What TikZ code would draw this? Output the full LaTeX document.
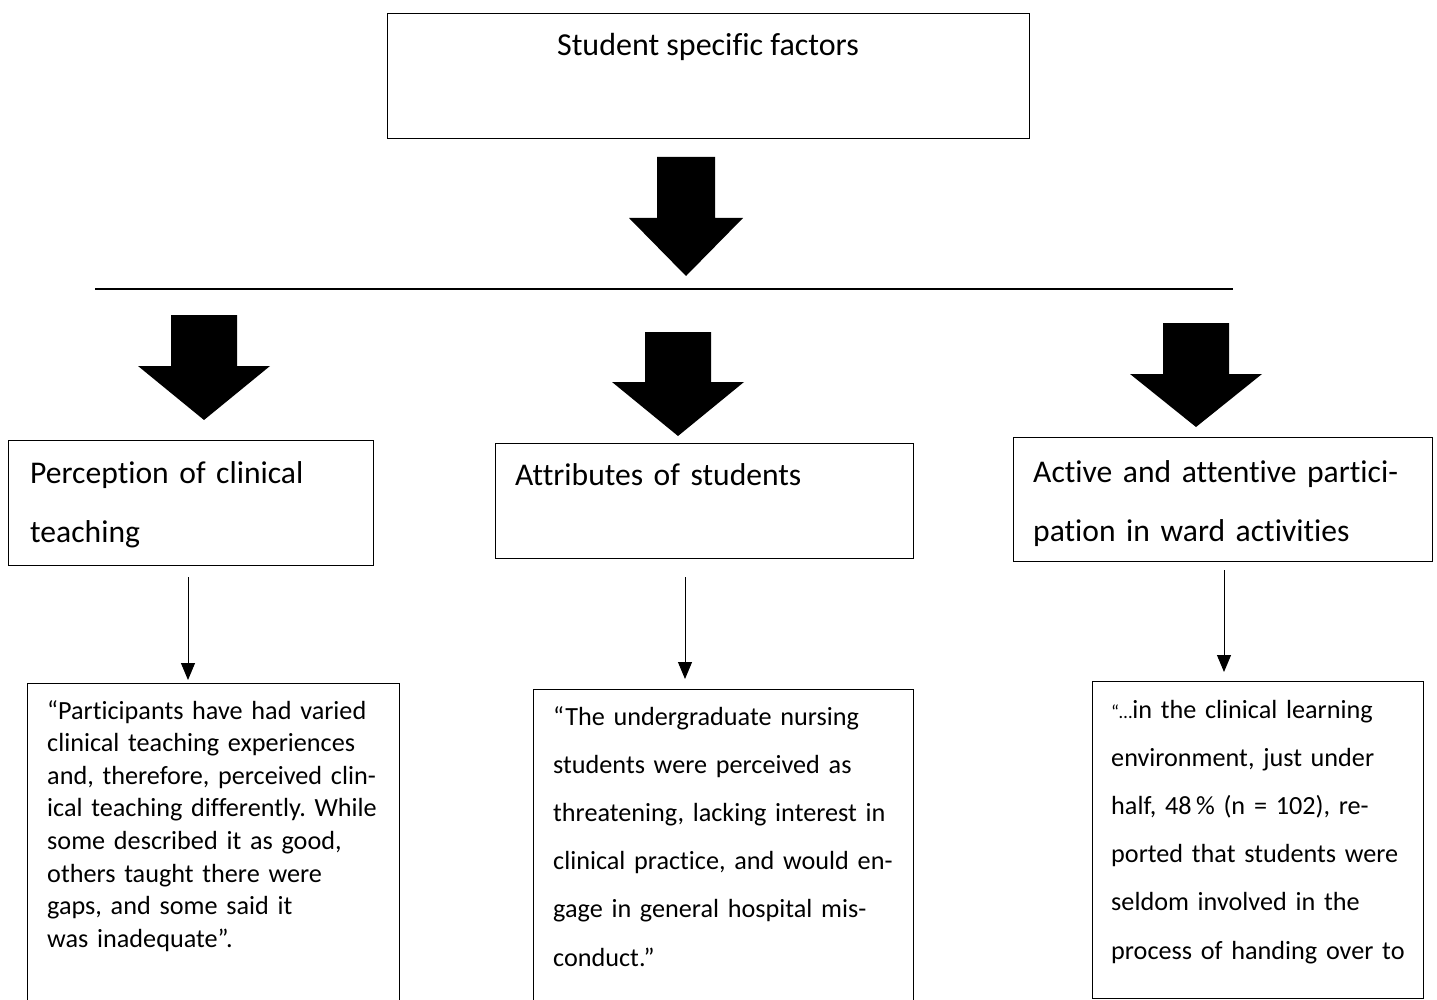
\documentclass[tikz,border=0pt]{standalone}
\usepackage{fontspec}
\setmainfont{Carlito}[Ligatures=NoCommon]
\usetikzlibrary{arrows.meta}
\frenchspacing
\newcommand\BigArrow[6]{% cx, top, shoulder, tip, shaft half, head half
  \fill[black] ({#1-#5},#2) -- ({#1+#5},#2) -- ({#1+#5},#3) -- ({#1+#6},#3) -- (#1,#4) -- ({#1-#6},#3) -- ({#1-#5},#3) -- cycle;}
\begin{document}
\frenchspacing
\begin{tikzpicture}[x=1pt,y=-1pt,
  box/.style={draw, line width=1.2pt, inner sep=0pt, anchor=north west},
  hdr/.style={anchor=base west, inner sep=0pt, text width=450pt, align=left, font=\fontsize{31.6}{59}\selectfont},
  bodyA/.style={anchor=base west, inner sep=0pt, text width=450pt, align=left, font=\fontsize{26.2}{32.6}\selectfont},
  bodyB/.style={anchor=base west, inner sep=0pt, text width=450pt, align=left, font=\fontsize{26.2}{48.2}\selectfont},
  thinarrow/.style={line width=1pt, -{Triangle[width=14pt,length=17pt]}}]
\useasboundingbox (0,0) rectangle (1437,1000);
\clip (0,0) rectangle (1437,1000);

% boxes
\node[box, minimum width=642pt, minimum height=125pt] (top) at (387,13) {};
\node[box, minimum width=365pt, minimum height=125pt] (b2) at (8,440) {};
\node[box, minimum width=418pt, minimum height=115pt] (b3) at (495,443) {};
\node[box, minimum width=419pt, minimum height=124pt] (b4) at (1013,437) {};
\node[box, minimum width=372pt, minimum height=340pt] (b5) at (27,683) {};
\node[box, minimum width=380pt, minimum height=340pt] (b6) at (533,689) {};
\node[box, minimum width=331pt, minimum height=317pt] (b7) at (1092,681) {};

% texts
\node[anchor=base, inner sep=0pt, font=\fontsize{32}{40}\selectfont] (ttop) at (708,56) {Student specific factors};
\node[hdr] (t2) at (30,483) {Perception of clinical\\teaching};
\node[hdr] (t3) at (515,485) {Attributes of students};
\node[hdr] (t4) at (1033,482) {Active and attentive partici-\\pation in ward activities};
\node[bodyA] (t5) at (47,719) {“Participants have had varied\\clinical teaching experiences\\and, therefore, perceived clin-\\ical teaching differently. While\\some described it as good,\\others taught there were\\gaps, and some said it\\was inadequate”.};
\node[bodyB] (t6) at (553,725) {“The undergraduate nursing\\students were perceived as\\threatening, lacking interest in\\clinical practice, and would en-\\gage in general hospital mis-\\conduct.”};
\node[bodyB] (t7) at (1111,718) {{\fontsize{19}{19}\selectfont “…}in the clinical learning\\environment, just under\\half, 48\,\% (n = 102), re-\\ported that students were\\seldom involved in the\\process of handing over to};

% big arrows and line
\BigArrow{686}{157}{218}{276}{29}{57}
\coordinate (hl) at (95,289);
\coordinate (hr) at (1233,289);
\draw[line width=1.2pt] (hl) -- (hr);
\BigArrow{204}{315}{366}{420}{33}{66}
\BigArrow{678}{332}{382}{436}{33}{66}
\BigArrow{1196}{323}{374}{427}{33}{66}

% thin arrows
\coordinate (s5) at (188,577);
\coordinate (e5) at (188,680);
\coordinate (s6) at (685,577);
\coordinate (e6) at (685,679);
\coordinate (s7) at (1224,570);
\coordinate (e7) at (1224,672);
\draw[thinarrow] (s5) -- (e5);
\draw[thinarrow] (s6) -- (e6);
\draw[thinarrow] (s7) -- (e7);
\end{tikzpicture}
\end{document}
